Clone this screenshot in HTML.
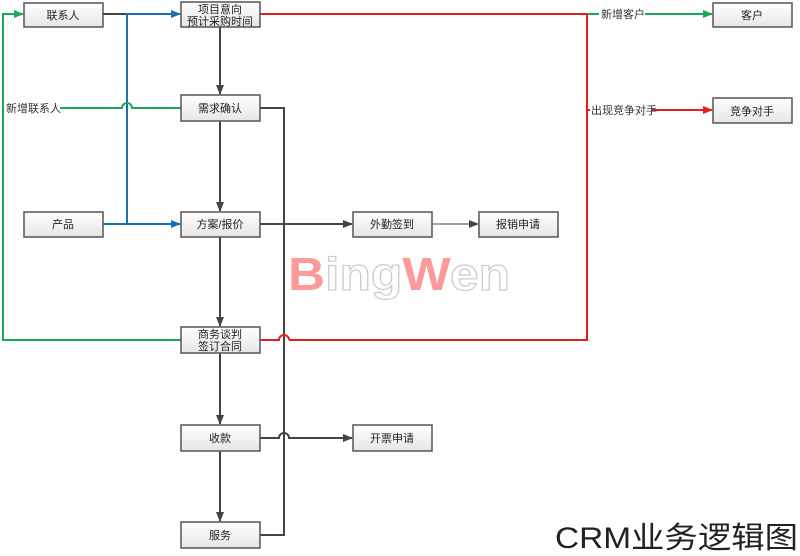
<!DOCTYPE html>
<html><head><meta charset="utf-8"><style>
html,body{margin:0;padding:0;background:#fff;}
svg{display:block;}
text{font-family:"Liberation Sans","Noto Sans CJK SC",sans-serif;}
</style></head><body>
<svg width="800" height="556" viewBox="0 0 800 556" xmlns="http://www.w3.org/2000/svg">
<defs>
<linearGradient id="g" x1="0" y1="0" x2="0" y2="1"><stop offset="0" stop-color="#ffffff"/><stop offset="1" stop-color="#e6e6e6"/></linearGradient>
<marker id="ak" markerWidth="10" markerHeight="8" refX="9" refY="4" orient="auto" markerUnits="userSpaceOnUse"><path d="M0,0 L10,4 L0,8 Z" fill="#444"/></marker>
<marker id="ab" markerWidth="10" markerHeight="8" refX="9" refY="4" orient="auto" markerUnits="userSpaceOnUse"><path d="M0,0 L10,4 L0,8 Z" fill="#1a6fb5"/></marker>
<marker id="ag" markerWidth="10" markerHeight="8" refX="9" refY="4" orient="auto" markerUnits="userSpaceOnUse"><path d="M0,0 L10,4 L0,8 Z" fill="#1aa860"/></marker>
<marker id="ar" markerWidth="10" markerHeight="8" refX="9" refY="4" orient="auto" markerUnits="userSpaceOnUse"><path d="M0,0 L10,4 L0,8 Z" fill="#e02020"/></marker>
</defs>

<g font-weight="bold" font-size="46" font-family="Liberation Sans, sans-serif">
<text x="288" y="290" fill="#fa9a9a" textLength="222" lengthAdjust="spacingAndGlyphs">B<tspan fill="#fff" stroke="#ccc" stroke-width="1.2">ing</tspan>W<tspan fill="#fff" stroke="#ccc" stroke-width="1.2">en</tspan></text>
</g>

<g fill="none" stroke-width="2">
<line x1="220" y1="27" x2="220" y2="94" stroke="#444" marker-end="url(#ak)"/>
<line x1="220" y1="121" x2="220" y2="211" stroke="#444" marker-end="url(#ak)"/>
<line x1="220" y1="237" x2="220" y2="326" stroke="#444" marker-end="url(#ak)"/>
<line x1="220" y1="353" x2="220" y2="424" stroke="#444" marker-end="url(#ak)"/>
<line x1="220" y1="451" x2="220" y2="521" stroke="#444" marker-end="url(#ak)"/>
<polyline points="260,108 284,108 284,535 260,535" stroke="#444"/>
<line x1="260" y1="224" x2="352" y2="224" stroke="#444" marker-end="url(#ak)"/>
<line x1="432" y1="224" x2="478" y2="224" stroke="#444" stroke-width="1" marker-end="url(#ak)"/>
<path d="M260,438 L279,438 A5,5 0 0 1 289,438 L352,438" stroke="#444" marker-end="url(#ak)"/>
<line x1="103" y1="14" x2="127" y2="14" stroke="#444"/>
<line x1="127" y1="14" x2="180" y2="14" stroke="#1a6fb5" marker-end="url(#ab)"/>
<line x1="127" y1="14" x2="127" y2="224" stroke="#1a6fb5"/>
<line x1="103" y1="224" x2="180" y2="224" stroke="#1a6fb5" marker-end="url(#ab)"/>
<path d="M181,108 L132,108 A5,5 0 0 0 122,108 L60,108" stroke="#1aa860"/>
<polyline points="181,340 3,340 3,14 23,14" stroke="#1aa860" marker-end="url(#ag)"/>
<line x1="587" y1="14" x2="712" y2="14" stroke="#1aa860" marker-end="url(#ag)"/>
<polyline points="260,14 587,14 587,340 289,340" stroke="#e02020"/>
<path d="M289,340 A5,5 0 0 0 279,340 L260,340" stroke="#e02020"/>
<line x1="587" y1="110" x2="712" y2="110" stroke="#e02020" marker-end="url(#ar)"/>
</g>

<rect x="599" y="6" width="46" height="15" fill="#fff"/>
<rect x="590" y="102" width="62" height="15" fill="#fff"/>
<rect x="4" y="100" width="55" height="15" fill="#fff"/>
<g font-size="11" fill="#333">
<text x="601" y="18">新增客户</text>
<text x="591" y="114">出现竞争对手</text>
<text x="6" y="112">新增联系人</text>
</g>

<g stroke="#555" stroke-width="1.5" fill="url(#g)">
<rect x="24" y="3" width="79" height="24"/>
<rect x="181" y="2" width="79" height="25"/>
<rect x="713" y="3" width="79" height="24"/>
<rect x="181" y="95" width="79" height="26"/>
<rect x="713" y="98" width="79" height="25"/>
<rect x="24" y="212" width="79" height="25"/>
<rect x="181" y="212" width="79" height="25"/>
<rect x="353" y="212" width="79" height="25"/>
<rect x="479" y="212" width="79" height="25"/>
<rect x="181" y="327" width="79" height="26"/>
<rect x="181" y="425" width="79" height="26"/>
<rect x="353" y="425" width="79" height="26"/>
<rect x="181" y="522" width="79" height="26"/>
</g>
<g font-size="11" fill="#222" text-anchor="middle">
<text x="63" y="19">联系人</text>
<text x="220" y="13">项目意向</text>
<text x="220" y="25">预计采购时间</text>
<text x="752" y="19">客户</text>
<text x="220" y="112">需求确认</text>
<text x="752" y="115">竞争对手</text>
<text x="63" y="228">产品</text>
<text x="220" y="228">方案/报价</text>
<text x="392" y="228">外勤签到</text>
<text x="518" y="228">报销申请</text>
<text x="220" y="338">商务谈判</text>
<text x="220" y="350">签订合同</text>
<text x="220" y="442">收款</text>
<text x="392" y="442">开票申请</text>
<text x="220" y="539">服务</text>
</g>
<text x="555" y="548" font-size="30" fill="#222" textLength="243" lengthAdjust="spacingAndGlyphs">CRM业务逻辑图</text>
</svg>
</body></html>
